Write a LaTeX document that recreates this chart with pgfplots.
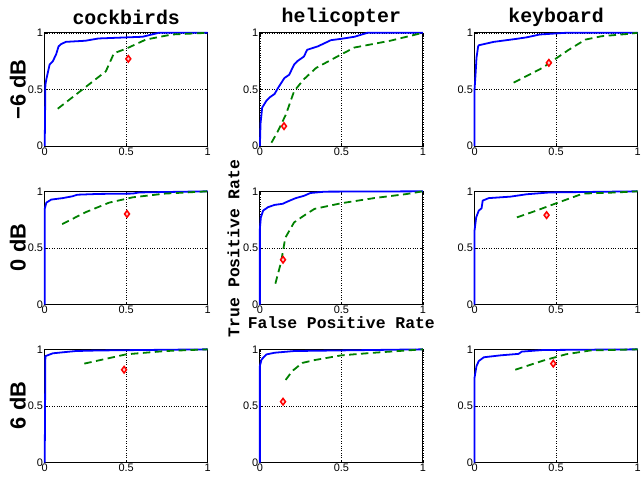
\documentclass[border=0pt]{standalone}
\usepackage{fontspec}
\setmainfont{Liberation Sans}
\newfontfamily\cour{Liberation Mono}
\usepackage{pgfplots}
\pgfplotsset{compat=1.18}
\definecolor{mblue}{RGB}{0,0,255}
\definecolor{mgreen}{RGB}{0,128,0}
\definecolor{mred}{RGB}{255,0,0}
\pgfplotsset{
  panel/.style={
    width=164pt, height=114pt, scale only axis,
    xmin=0, xmax=1, ymin=0, ymax=1,
    xtick={0,0.5,1}, ytick={0,0.5,1},
    xticklabels={0,0.5,1}, yticklabels={0,0.5,1},
    tick align=inside, major tick length=3pt,
    grid=major, grid style={dotted, black, line width=0.5pt},
    axis line style={black, line width=0.9pt},
    tick style={black, line width=0.6pt},
    ticklabel style={font=\fontsize{11}{12}\selectfont},
    xticklabel style={inner sep=1.5pt},
    yticklabel style={inner sep=1.5pt},
    /pgf/number format/assume math mode=true,
    anchor=north west, clip=false,
  },
  roc/.style={mblue, line width=1.8pt, no marks, line join=round},
  base/.style={mgreen, line width=1.8pt, no marks, dash pattern=on 7.5pt off 4.5pt},
  pt/.style={only marks, mark=diamond*, mark size=3.3pt, mark options={draw=mred, fill=mred!20, line width=1.5pt}},
}
\begin{document}
\begin{tikzpicture}
% ---------- row 1 : -6 dB ----------
\begin{axis}[panel, at={(45pt,-33pt)}]
\addplot[roc] coordinates {(0,0) (0.004,0.54) (0.01,0.59) (0.03,0.72) (0.05,0.75) (0.07,0.81) (0.085,0.88) (0.1,0.90) (0.13,0.92) (0.25,0.93) (0.33,0.95) (0.6,0.965) (0.7,1.0) (1,1)};
\addplot[base] coordinates {(0.08,0.33) (0.375,0.66) (0.425,0.82) (0.5,0.86) (0.62,0.94) (0.78,0.985) (1,1)};
\addplot[pt] coordinates {(0.513,0.77)};
\end{axis}
\begin{axis}[panel, at={(261.5pt,-33pt)}]
\addplot[roc] coordinates {(0,0) (0.004,0.2) (0.014,0.34) (0.04,0.40) (0.06,0.43) (0.09,0.46) (0.11,0.51) (0.15,0.60) (0.18,0.63) (0.21,0.72) (0.23,0.75) (0.27,0.79) (0.29,0.85) (0.355,0.88) (0.436,0.935) (0.5,0.947) (0.58,0.965) (0.66,1.0) (1,1)};
\addplot[base] coordinates {(0.071,0.03) (0.11,0.13) (0.16,0.28) (0.21,0.485) (0.27,0.59) (0.345,0.69) (0.5,0.81) (0.58,0.87) (0.8,0.93) (1,1)};
\addplot[pt] coordinates {(0.148,0.176)};
\end{axis}
\begin{axis}[panel, at={(477.5pt,-33pt)}]
\addplot[roc] coordinates {(0,0) (0,0.5) (0.006,0.63) (0.012,0.78) (0.022,0.88) (0.026,0.89) (0.118,0.92) (0.26,0.947) (0.32,0.96) (0.40,0.985) (0.56,1.0) (1,1)};
\addplot[base] coordinates {(0.24,0.56) (0.416,0.69) (0.517,0.79) (0.578,0.85) (0.68,0.94) (0.78,0.97) (0.94,0.99) (1,1)};
\addplot[pt] coordinates {(0.456,0.735)};
\end{axis}
% ---------- row 2 : 0 dB ----------
\begin{axis}[panel, at={(45pt,-192.5pt)}]
\addplot[roc] coordinates {(0,0) (0,0.845) (0.01,0.90) (0.04,0.927) (0.11,0.94) (0.17,0.956) (0.2,0.97) (0.33,0.977) (0.54,0.98) (0.58,0.99) (1,1)};
\addplot[base] coordinates {(0.107,0.71) (0.25,0.815) (0.395,0.90) (0.54,0.947) (0.74,0.98) (1,1)};
\addplot[pt] coordinates {(0.505,0.80)};
\end{axis}
\begin{axis}[panel, at={(261.5pt,-192.5pt)}]
\addplot[roc] coordinates {(0,0) (0,0.67) (0.006,0.77) (0.02,0.83) (0.05,0.86) (0.09,0.88) (0.14,0.89) (0.17,0.91) (0.22,0.94) (0.27,0.96) (0.31,0.985) (0.40,0.997) (1,1)};
\addplot[base] coordinates {(0.095,0.185) (0.13,0.375) (0.156,0.59) (0.21,0.726) (0.27,0.785) (0.335,0.845) (0.5,0.895) (0.7,0.94) (0.9,0.976) (1,1)};
\addplot[pt] coordinates {(0.142,0.396)};
\end{axis}
\begin{axis}[panel, at={(477.5pt,-192.5pt)}]
\addplot[roc] coordinates {(0,0) (0,0.654) (0.01,0.77) (0.026,0.83) (0.043,0.85) (0.05,0.918) (0.087,0.94) (0.22,0.953) (0.32,0.974) (0.46,0.99) (1,1)};
\addplot[base] coordinates {(0.26,0.77) (0.38,0.83) (0.5,0.894) (0.665,0.98) (0.87,0.99) (1,1)};
\addplot[pt] coordinates {(0.442,0.79)};
\end{axis}
% ---------- row 3 : 6 dB ----------
\begin{axis}[panel, at={(45pt,-351.5pt)}]
\addplot[roc] coordinates {(0,0) (0.004,0.94) (0.05,0.965) (0.19,0.985) (0.33,0.99) (1,1)};
\addplot[base] coordinates {(0.243,0.874) (0.5,0.956) (0.74,0.985) (1,1)};
\addplot[pt] coordinates {(0.487,0.82)};
\end{axis}
\begin{axis}[panel, at={(261.5pt,-351.5pt)}]
\addplot[roc] coordinates {(0,0) (0,0.853) (0.01,0.91) (0.04,0.955) (0.09,0.97) (0.21,0.985) (1,1)};
\addplot[base] coordinates {(0.158,0.73) (0.2,0.81) (0.26,0.88) (0.335,0.905) (0.5,0.947) (0.7,0.97) (1,1)};
\addplot[pt] coordinates {(0.142,0.538)};
\end{axis}
\begin{axis}[panel, at={(477.5pt,-351.5pt)}]
\addplot[roc] coordinates {(0,0) (0,0.75) (0.012,0.853) (0.026,0.897) (0.057,0.93) (0.16,0.947) (0.27,0.96) (0.29,0.98) (0.42,0.994) (1,1)};
\addplot[base] coordinates {(0.25,0.82) (0.42,0.90) (0.56,0.956) (0.71,0.99) (1,1)};
\addplot[pt] coordinates {(0.483,0.874)};
\end{axis}
% ---------- titles and labels ----------
\node[font=\cour\bfseries\fontsize{20}{22}\selectfont] at (127pt,-17pt) {cockbirds};
\node[font=\cour\bfseries\fontsize{20}{22}\selectfont] at (343.5pt,-17pt) {helicopter};
\node[font=\cour\bfseries\fontsize{20}{22}\selectfont] at (559.5pt,-17pt) {keyboard};
\node[rotate=90, font=\bfseries\fontsize{22}{24}\selectfont] at (18pt,-90pt) {−6 dB};
\node[rotate=90, font=\bfseries\fontsize{22}{24}\selectfont] at (18pt,-249pt) {0 dB};
\node[rotate=90, font=\bfseries\fontsize{22}{24}\selectfont] at (18pt,-408pt) {6 dB};
\node[font=\cour\bfseries\fontsize{16.5}{18}\selectfont] at (343.5pt,-325pt) {False Positive Rate};
\node[rotate=90, font=\cour\bfseries\fontsize{16.5}{18}\selectfont] at (235pt,-250pt) {True Positive Rate};
\pgfresetboundingbox
\path[use as bounding box] (0pt,0pt) rectangle (647pt,-480pt);
\end{tikzpicture}
\end{document}
